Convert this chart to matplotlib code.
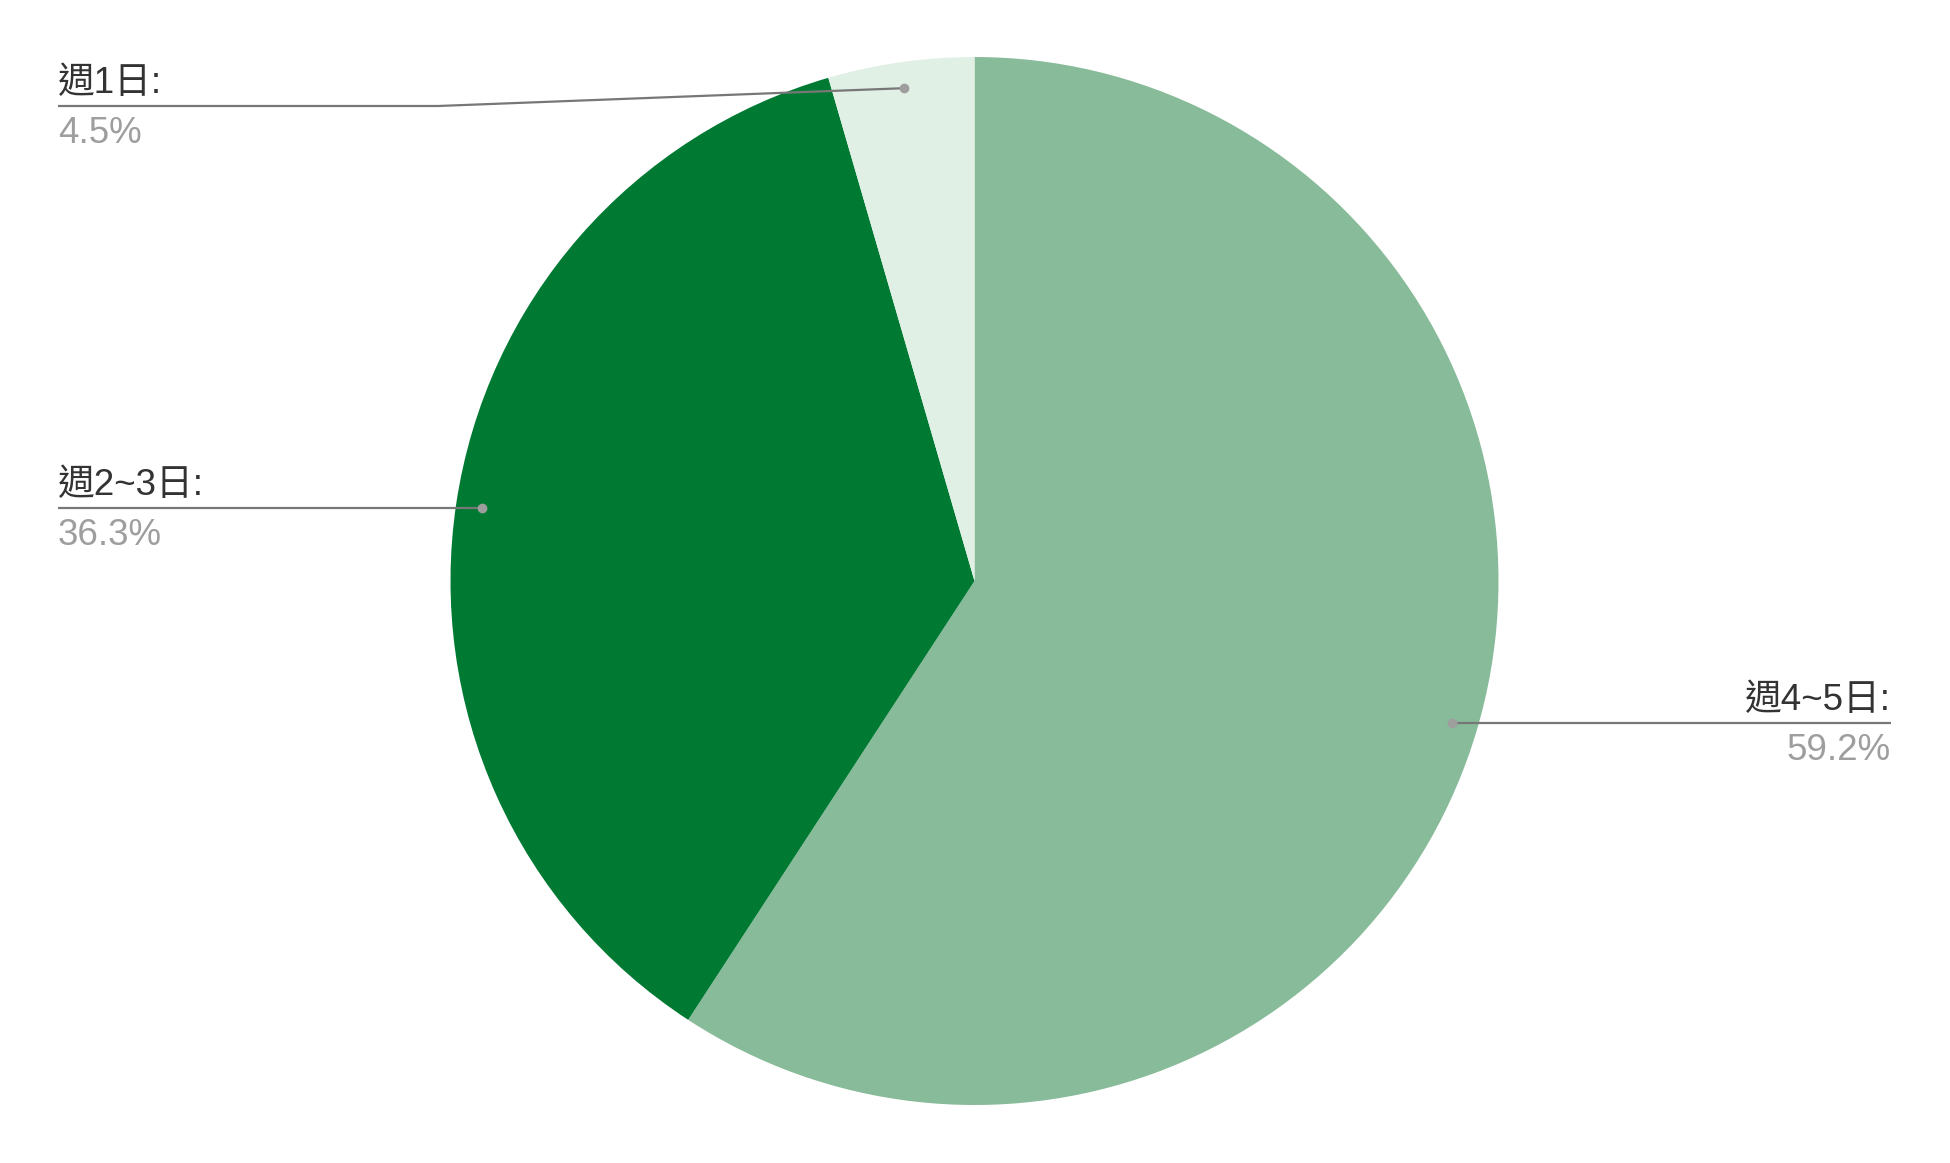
import numpy as np
import matplotlib
matplotlib.use("Agg")
import matplotlib.pyplot as plt

labels = ["週4~5日", "週2~3日", "週1日"]
values = [59.2, 36.3, 4.5]
colors = ["#87bb99", "#007a33", "#e0f0e5"]

W, H = 1950, 1163
fig = plt.figure(figsize=(W / 100, H / 100), dpi=100)
ax = fig.add_axes([0, 0, 1, 1])
ax.set_xlim(0, W)
ax.set_ylim(0, H)
ax.set_aspect("equal")
ax.axis("off")

cx, cy, R = 974.5, H - 581, 524
wedges, _ = ax.pie(values, colors=colors, startangle=90, counterclock=False,
                   center=(cx, cy), radius=R, frame=True,
                   wedgeprops=dict(linewidth=0))
ax.set_xlim(0, W)
ax.set_ylim(0, H)
ax.axis("off")

fam = ["Liberation Sans", "Noto Sans CJK TC", "DejaVu Sans"]
fs = 26.5
line_c = "#777777"
dot_c = "#9e9e9e"

# label layout: (line y in image px, side, bend x)
layout = {
    "週4~5日": (723, "right", None),
    "週2~3日": (508, "left", None),
    "週1日": (106, "left", 438),
}
left_x, right_x = 58, 1891

for w, lab, val in zip(wedges, labels, values):
    mid = np.deg2rad((w.theta1 + w.theta2) / 2)
    dx_, dy_ = cx + 0.95 * R * np.cos(mid), cy + 0.95 * R * np.sin(mid)
    ly_img, side, bend = layout[lab]
    ly = H - ly_img
    if side == "left":
        if bend is not None:
            xs = [dx_, bend, left_x]
            ys = [dy_, ly, ly]
        else:
            xs = [dx_, left_x]
            ys = [ly, ly]
            dy_ = ly
        tx, ha = left_x, "left"
    else:
        xs = [dx_, right_x]
        ys = [ly, ly]
        dy_ = ly
        tx, ha = right_x, "right"
    ax.plot(xs, ys, color=line_c, lw=1.6, solid_capstyle="butt", zorder=5)
    ax.plot([dx_], [dy_], "o", color=dot_c, ms=6, zorder=6)
    ax.text(tx, ly + 13, lab + ":", ha=ha, va="baseline", fontsize=fs,
            family=fam, color="#333333", zorder=7)
    ax.text(tx, ly - 37, f"{val:.1f}%", ha=ha, va="baseline", fontsize=fs,
            family=fam, color="#9e9e9e", zorder=7)

fig.savefig("out.png", dpi=100, facecolor="white")
